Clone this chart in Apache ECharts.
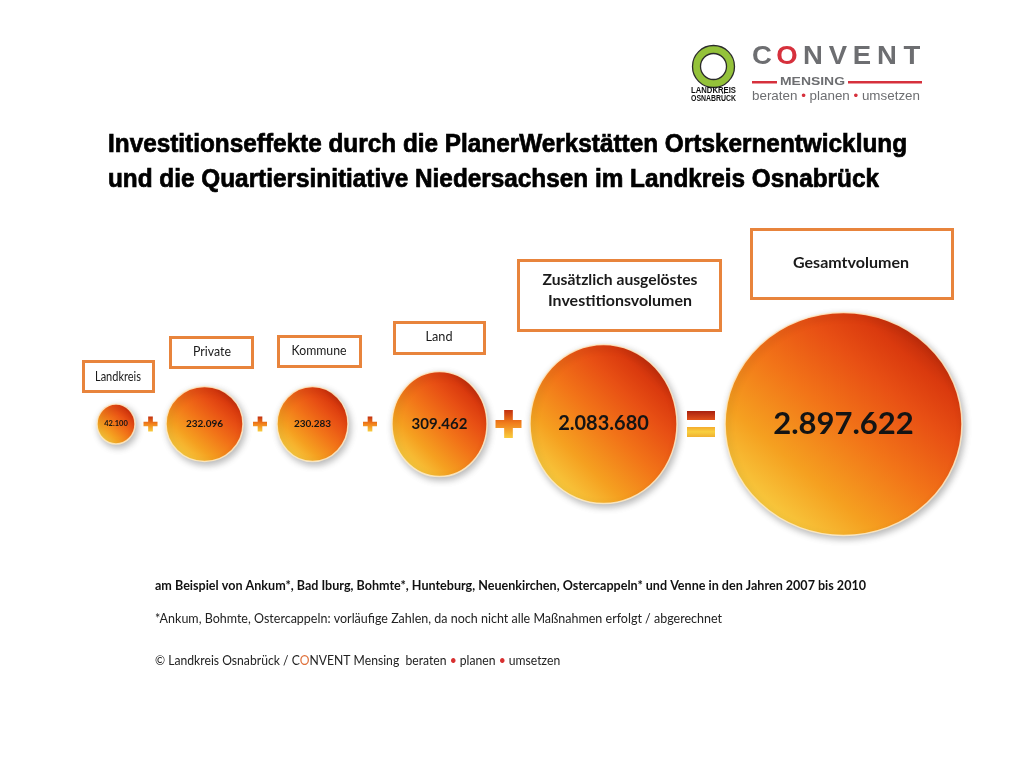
<!DOCTYPE html>
<html><head><meta charset="utf-8">
<script src="https://cdn.jsdelivr.net/npm/echarts@6/dist/echarts.min.js"></script>
<style>html,body{margin:0;padding:0;background:#fff}#main{width:1023px;height:769px}</style>
</head><body><div id="main"></div>
<script>
// ---------- data ----------
const categories = ['Landkreis', 'Private', 'Kommune', 'Land', 'Zusätzlich ausgelöstes\nInvestitionsvolumen', 'Gesamtvolumen'];
const values = [42100, 232096, 230283, 309462, 2083680, 2897622];
const operators = ['+', '+', '+', '+', '='];
const titleLines = ['Investitionseffekte durch die PlanerWerkstätten Ortskernentwicklung',
                    'und die Quartiersinitiative Niedersachsen im Landkreis Osnabrück'];
const footnoteLines = ['am Beispiel von Ankum*, Bad Iburg, Bohmte*, Hunteburg, Neuenkirchen, Ostercappeln* und Venne in den Jahren 2007 bis 2010',
                       '*Ankum, Bohmte, Ostercappeln: vorläufige Zahlen, da noch nicht alle Maßnahmen erfolgt / abgerechnet'];
const creditText = '© Landkreis Osnabrück / C{o|O}NVENT Mensing  beraten {b|•} planen {b|•} umsetzen';
const logoLeftLines = ['LANDKREIS', 'OSNABRÜCK'];
const logoBrand = 'CONVENT';
const logoSub = 'MENSING';
const logoTagline = ['beraten', 'planen', 'umsetzen'];

// ---------- layout / style ----------
const bubbleSize = [[38, 40], [77, 75], [71, 75], [95, 105], [147, 159], [237, 223]];
const bubbleGap = [31, 34, 44, 43, 48];
const firstLeft = 97;
const valueFont = [7.5, 10, 10, 15, 20, 31];
const opSize = [[14, 15], [14, 15], [14, 15], [26, 28], [28, 26]];
const boxes = [[82, 360, 73, 33], [169, 336, 85, 33], [277, 335, 85, 33], [393, 321, 93, 34], [517, 259, 205, 73], [750, 228, 204, 72]];
const labelPos = [[118, 377, 46, false], [212, 352, 38, false], [319, 351, 55, false], [439, 337, 27, false], [620, 280, 155, true], [851, 263, 116, true]];
const labelPos2 = [null, null, null, null, [620, 301, 144], null];

const measureCtx = document.createElement('canvas').getContext('2d');
function measure(text, size, weight, family) {
  measureCtx.font = weight + ' ' + size + 'px ' + family;
  return measureCtx.measureText(text).width;
}
function fitText(text, left, y, width, size, weight, family, fill, rich, plain, extra) {
  const w = measure(plain || text, size, weight, family);
  const st = Object.assign({ text: text, x: 0, y: 0, fontSize: size, fontWeight: weight, fontFamily: family, fill: fill,
               align: 'left', verticalAlign: 'middle', textAlign: 'left', textVerticalAlign: 'middle' }, extra || {});
  if (rich) st.rich = rich;
  return { type: 'text', x: left, y: y, scaleX: width / w, silent: true, style: st };
}
function fmt(v) { return String(v).replace(/\B(?=(\d{3})+(?!\d))/g, '.'); }

// bubble centers (x in pixel units on a hidden 0..1023 axis)
const centers = [];
let edge = firstLeft;
bubbleSize.forEach((s, i) => { if (i > 0) edge += bubbleGap[i - 1]; centers.push(edge + s[0] / 2); edge += s[0]; });
const opX = operators.map((o, i) => centers[i] + bubbleSize[i][0] / 2 + bubbleGap[i] / 2);

const bubbleGrad = { type: 'linear', x: 0.05, y: 1, x2: 0.95, y2: 0, colorStops: [
  { offset: 0.12, color: '#f8cc40' }, { offset: 0.3, color: '#f5a020' }, { offset: 0.5, color: '#f27418' },
  { offset: 0.68, color: '#e85014' }, { offset: 0.8, color: '#da3a0e' }, { offset: 0.9, color: '#b4260a' }] };
const plusGrad = { type: 'linear', x: 0, y: 0, x2: 0, y2: 1, colorStops: [
  { offset: 0, color: '#c23010' }, { offset: 0.45, color: '#f07a1a' }, { offset: 1, color: '#f8cc3c' }] };
const eqGrad = { type: 'linear', x: 0, y: 0, x2: 0, y2: 1, colorStops: [
  { offset: 0, color: '#a82010' }, { offset: 0.34, color: '#e0501a' }, { offset: 0.6, color: '#f4a82a' },
  { offset: 0.8, color: '#f8d040' }, { offset: 1, color: '#f0b030' }] };
const plusPath = 'path://M4,0H8V5H12V9H8V14H4V9H0V5H4Z';
const eqPath = 'path://M0,0H28V9H0Z M0,16H28V26H0Z';

const graphics = [];
// title
const titleExtra = { stroke: '#000', lineWidth: 0.7 };
graphics.push(fitText(titleLines[0], 108, 145, 799, 25, 'bold', '"Liberation Sans", Arial', '#000', null, null, titleExtra));
graphics.push(fitText(titleLines[1], 108, 180, 771, 25, 'bold', '"Liberation Sans", Arial', '#000', null, null, titleExtra));
// boxes & labels
boxes.forEach((b, i) => {
  graphics.push({ type: 'rect', silent: true, shape: { x: b[0] + 1.5, y: b[1] + 1.5, width: b[2] - 3, height: b[3] - 3 },
    style: { fill: '#fff', stroke: '#e8843c', lineWidth: 3 } });
  const lines = categories[i].split('\n');
  const lp = labelPos[i];
  const weight = lp[3] ? 'bold' : 'normal';
  const size = lp[3] ? 16 : 13.5;
  graphics.push(fitText(lines[0], lp[0] - lp[2] / 2, lp[1], lp[2], size, weight, 'Lato', '#1a1a1a'));
  if (lines[1]) {
    const l2 = labelPos2[i];
    graphics.push(fitText(lines[1], l2[0] - l2[2] / 2, l2[1], l2[2], size, weight, 'Lato', '#1a1a1a'));
  }
});
// footnotes
graphics.push(fitText(footnoteLines[0], 155, 585, 711, 14, 'bold', 'Lato', '#111'));
graphics.push(fitText(footnoteLines[1], 155, 618, 567, 14, 'normal', 'Lato', '#222'));
graphics.push(fitText(creditText, 155, 660, 405, 14, 'normal', 'Lato', '#222',
  { o: { fill: '#e0703a', fontSize: 14, fontFamily: 'Lato' }, b: { fill: '#d83030', fontSize: 14, fontFamily: 'Lato' } },
  '© Landkreis Osnabrück / CONVENT Mensing  beraten • planen • umsetzen'));
// logo left
graphics.push({ type: 'ring', silent: true, shape: { cx: 713.5, cy: 66.5, r: 21, r0: 13 },
  style: { fill: '#94c23a', stroke: '#2b2b2b', lineWidth: 1.3 } });
graphics.push(fitText(logoLeftLines[0], 691, 90.5, 45, 8.5, 'bold', '"Liberation Sans", Arial', '#111'));
graphics.push(fitText(logoLeftLines[1], 691, 98.5, 45, 8.5, 'bold', '"Liberation Sans", Arial', '#111'));
// logo right
const brandCenters = [762, 787, 813, 838, 862, 887, 912];
logoBrand.split('').forEach((ch, i) => {
  graphics.push({ type: 'text', x: brandCenters[i], y: 57, silent: true, scaleX: 1.1,
    style: { text: ch, fontSize: 25, fontFamily: '"Liberation Sans", Arial', fontWeight: 'bold',
      fill: i === 1 ? '#d6303c' : '#6d6e71', align: 'center', verticalAlign: 'middle', textAlign: 'center', textVerticalAlign: 'middle' } });
});
graphics.push({ type: 'rect', silent: true, shape: { x: 752, y: 81, width: 25, height: 2.5 }, style: { fill: '#d6303c' } });
graphics.push({ type: 'rect', silent: true, shape: { x: 848, y: 81, width: 74, height: 2.5 }, style: { fill: '#d6303c' } });
graphics.push(fitText(logoSub, 780, 81.5, 65, 11.5, 'bold', '"Liberation Sans", Arial', '#6d6e71'));
graphics.push(fitText(logoTagline[0] + ' {b|•} ' + logoTagline[1] + ' {b|•} ' + logoTagline[2], 752, 96, 168, 13, 'normal', '"Liberation Sans", Arial', '#6d6e71',
  { b: { fill: '#d6303c', fontSize: 13, fontFamily: '"Liberation Sans", Arial' } },
  logoTagline[0] + ' • ' + logoTagline[1] + ' • ' + logoTagline[2]));

const option = {
  backgroundColor: '#fff',
  animation: false,
  grid: { left: 0, right: 0, top: 324, height: 200, containLabel: false },
  xAxis: { type: 'value', min: 0, max: 1023, show: false },
  yAxis: { type: 'value', min: -1, max: 1, show: false },
  series: [
    {
      type: 'scatter', silent: true, z: 3,
      data: values.map((v, i) => ({ value: [centers[i], 0], name: categories[i], symbolSize: bubbleSize[i],
        label: { fontSize: valueFont[i] } })),
      itemStyle: { color: bubbleGrad, opacity: 1, borderColor: 'rgba(255,236,200,0.85)', borderWidth: 1.5,
        shadowBlur: 7, shadowColor: 'rgba(0,0,0,0.28)', shadowOffsetX: 2, shadowOffsetY: 3 },
      label: { show: true, position: 'inside', color: '#141414', fontFamily: 'Lato', fontWeight: 'bold',
        formatter: p => fmt(values[p.dataIndex]) },
      emphasis: { disabled: true }
    },
    {
      type: 'scatter', silent: true, z: 2,
      data: operators.map((o, i) => ({ value: [opX[i], 0], symbol: o === '+' ? plusPath : eqPath, symbolSize: opSize[i] })),
      itemStyle: { opacity: 1, color: p => (operators[p.dataIndex] === '+' ? plusGrad : eqGrad) },
      emphasis: { disabled: true }
    }
  ],
  graphic: { elements: graphics }
};
const chart = echarts.init(document.getElementById('main'));
chart.setOption(option);
</script>
</body></html>
